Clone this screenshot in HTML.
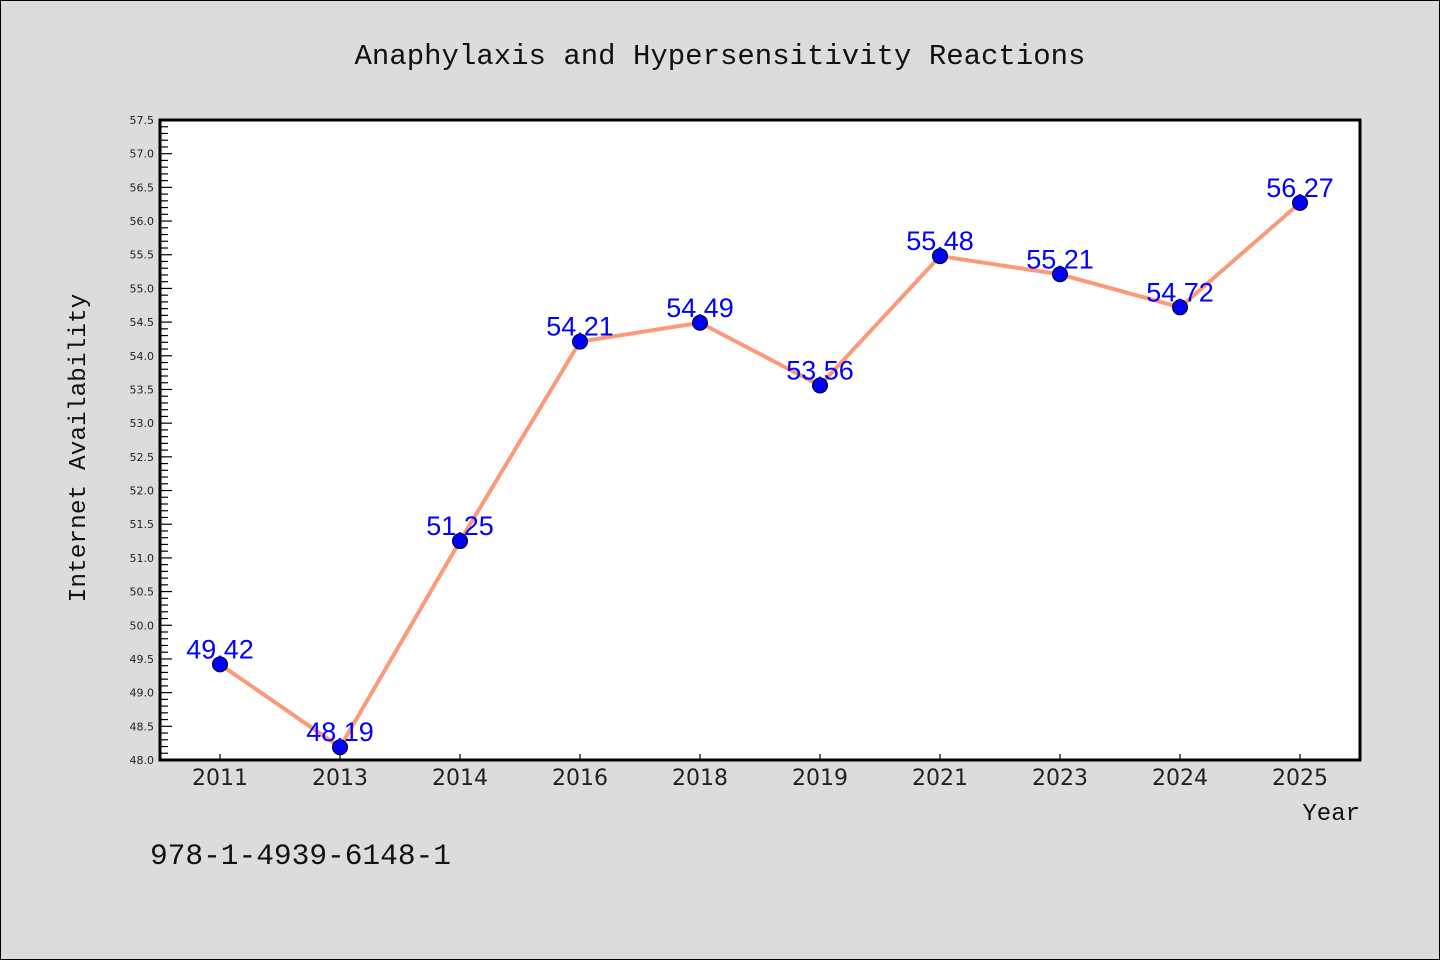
<!DOCTYPE html>
<html><head><meta charset="utf-8"><style>
body{margin:0;background:#dcdcdc;}
svg{display:block}
.mono{font-family:"Liberation Mono","WenQuanYi Zen Hei",monospace;fill:#111}
.tick{font-family:"DejaVu Sans","Liberation Sans",sans-serif;fill:#222}
</style></head><body>
<svg width="1440" height="960" id="c">
<rect x="0.5" y="0.5" width="1439" height="959" fill="#dcdcdc" stroke="#000"/>
<text class="mono" x="720" y="64" font-size="29" text-anchor="middle">Anaphylaxis and Hypersensitivity Reactions</text>
<rect x="160" y="120" width="1200" height="640" fill="#fff"/>
<g id="g"></g>
<rect x="160" y="120" width="1200" height="640" fill="none" stroke="#000" stroke-width="3"/>
<text class="mono" transform="translate(85,448) rotate(-90)" font-size="24.5" text-anchor="middle">Internet Availability</text>
<text class="mono" x="1360" y="820" font-size="24" text-anchor="end">Year</text>
<text class="mono" x="150" y="864" font-size="29.5">978-1-4939-6148-1</text>
</svg>
<script>
const categories=["2011","2013","2014","2016","2018","2019","2021","2023","2024","2025"];
const values=[49.42,48.19,51.25,54.21,54.49,53.56,55.48,55.21,54.72,56.27];
const labels=["49.42","48.19","51.25","54.21","54.49","53.56","55.48","55.21","54.72","56.27"];
const yMin=48.0,yMax=57.5;
const L=160,R=1360,T=120,B=760;
const step=(R-L)/categories.length;
const xs=i=>L+step*(i+0.5);
const ys=v=>B-(v-yMin)/(yMax-yMin)*(B-T);
const NS="http://www.w3.org/2000/svg";
const g=document.getElementById('g');
function mk(t,a){const e=document.createElementNS(NS,t);for(const k in a)e.setAttribute(k,a[k]);g.appendChild(e);return e;}
// y ticks
for(let k=0;k<=95;k++){
  const v=yMin+k*0.1, y=ys(v), major=k%5===0;
  const t=mk('line',{x1:L,x2:L+(major?12:8),y1:y,y2:y,stroke:'#000','stroke-width':1.2});
  
  
  if(major){
    const tx=mk('text',{x:L-6,y:y+4,'font-size':11,'text-anchor':'end',class:'tick'});
    tx.textContent=v.toFixed(1);
    
    
  }
}
categories.forEach((c,i)=>{
  const x=xs(i);
  const t=mk('line',{x1:x,x2:x,y1:B,y2:B-6,stroke:'#000','stroke-width':1.2});
  
  
  const tx=mk('text',{x:x,y:B+25,'font-size':22,'text-anchor':'middle',class:'tick'});
  tx.textContent=c;
  
  
});
const pl=mk('polyline',{points:values.map((v,i)=>xs(i)+','+ys(v)).join(' '),fill:'none',stroke:'#fa9a7a','stroke-width':4,'stroke-linejoin':'round'});


values.forEach((v,i)=>{
  const c=mk('circle',{cx:xs(i),cy:ys(v),r:7.5,fill:'#0000ff',stroke:'#000','stroke-width':1});
  
  
  const t=mk('text',{x:xs(i),y:ys(v)-6,'font-size':27,'text-anchor':'middle',fill:'#0000ff','font-family':'"Liberation Sans",sans-serif'});
  t.textContent=labels[i];
  
  
});
</script>
</body></html>
